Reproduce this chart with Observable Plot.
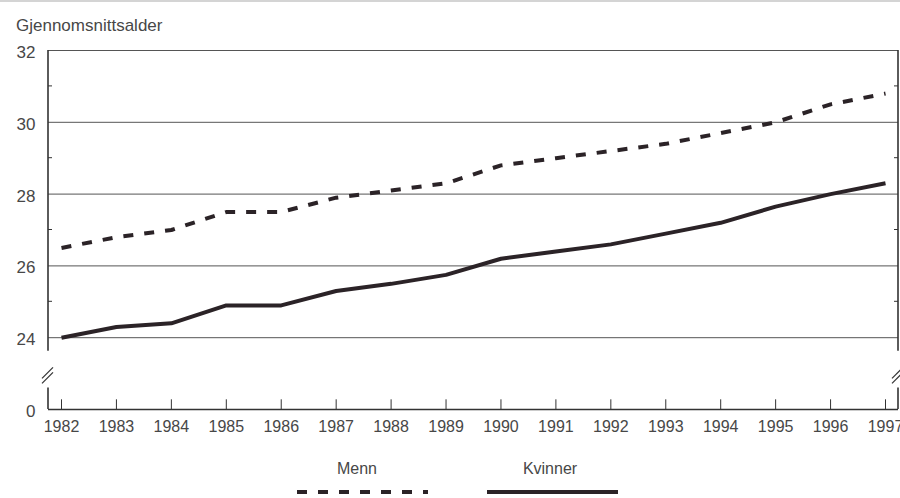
<!DOCTYPE html>
<html>
<head>
<meta charset="utf-8">
<script src="https://cdn.jsdelivr.net/npm/d3@7"></script>
<script src="https://cdn.jsdelivr.net/npm/@observablehq/plot@0.6"></script>
<style>
  html, body { margin: 0; padding: 0; background: #fff; }
  #wrap { position: relative; width: 900px; height: 498px; overflow: hidden; font-family: "Liberation Sans", Arial, sans-serif; color: #474747; }
  #topline { position: absolute; left: 0; top: 0; width: 900px; height: 2px; background: #d4d4d4; }
  #title { position: absolute; left: 16px; top: 16px; font-size: 17px; line-height: 20px; color: #474747; }
  #chart { position: absolute; left: 0; top: 0; }
  #legend { position: absolute; left: 0; top: 440px; }
</style>
</head>
<body>
<div id="wrap">
  <div id="topline"></div>
  <div id="chart"></div>
  <div id="title"></div>
  <div id="legend"></div>
</div>
<script>
// ---- data ----
const titleText = "Gjennomsnittsalder";
const years = [1982, 1983, 1984, 1985, 1986, 1987, 1988, 1989, 1990, 1991, 1992, 1993, 1994, 1995, 1996, 1997];
const menn = [26.5, 26.8, 27.0, 27.5, 27.5, 27.9, 28.1, 28.3, 28.8, 29.0, 29.2, 29.4, 29.7, 30.0, 30.5, 30.8];
const kvinner = [24.0, 24.3, 24.4, 24.9, 24.9, 25.3, 25.5, 25.75, 26.2, 26.4, 26.6, 26.9, 27.2, 27.65, 28.0, 28.3];
const seriesNames = ["Menn", "Kvinner"];
const gridValues = [24, 26, 28, 30, 32];
const yTickValues = [22, 24, 26, 28, 30, 32];      // 22 is the position of the broken-axis zero
const yTickLabels = ["0", "24", "26", "28", "30", "32"];
const minorTicks = [25, 27, 29, 31];
const breakRange = [22.6, 23.62];
const breakMid = 22.95;

// ---- build table ----
const rows = years.flatMap((yr, i) => [
  {year: yr, value: menn[i], series: seriesNames[0]},
  {year: yr, value: kvinner[i], series: seriesNames[1]}
]);

const ink = "#2b2327";
const axisColor = "#333";
const textColor = "#474747";

function brokenFrame(index, scales, values, dims) {
  const ns = "http://www.w3.org/2000/svg";
  const g = d3.select(document.createElementNS(ns, "g"));
  const y = scales.y;
  const top = dims.marginTop;
  const bottom = dims.height - dims.marginBottom;
  const xl = dims.marginLeft;
  const xr = dims.width - dims.marginRight;
  const yHi = y(breakRange[1]);
  const yLo = y(breakRange[0]);
  const yMid = y(breakMid);
  [[xl, 1], [xr, -1]].forEach(([x, dir]) => {
    g.append("line").attr("x1", x).attr("x2", x).attr("y1", top).attr("y2", yHi)
      .attr("stroke", axisColor).attr("stroke-width", 1.6);
    g.append("line").attr("x1", x).attr("x2", x).attr("y1", yLo).attr("y2", bottom)
      .attr("stroke", axisColor).attr("stroke-width", 1.6);
    [-2.5, 2.5].forEach(off => {
      g.append("line")
        .attr("x1", x - 6).attr("y1", yMid + off + 6)
        .attr("x2", x + 5).attr("y2", yMid + off - 5)
        .attr("stroke", axisColor).attr("stroke-width", 1.2);
    });
    minorTicks.forEach(v => {
      g.append("line").attr("x1", x).attr("x2", x + dir * 4)
        .attr("y1", y(v)).attr("y2", y(v))
        .attr("stroke", axisColor).attr("stroke-width", 1);
    });
  });
  return g.node();
}

const chart = Plot.plot({
  width: 900,
  height: 440,
  marginTop: 50,
  marginLeft: 48,
  marginRight: 2,
  marginBottom: 31,
  x: {domain: [1982, 1997], range: [61, 885]},
  y: {domain: [22, 32]},
  style: {fontFamily: "'Liberation Sans', Arial, sans-serif", fontSize: "16px", color: textColor, background: "transparent", overflow: "visible"},
  marks: [
    Plot.ruleY(gridValues, {stroke: "#555", strokeWidth: 1}),
    Plot.ruleY([yTickValues[0]], {stroke: axisColor, strokeWidth: 1.4}),
    Plot.ruleX(years, {y1: 22, y2: 22.27, stroke: axisColor, strokeWidth: 1}),
    brokenFrame,
    Plot.axisY(yTickValues, {anchor: "left", tickSize: 0, tickPadding: 13, dy: 2, label: null,
      tickFormat: (d) => yTickLabels[yTickValues.indexOf(d)], fontSize: 17, fill: textColor}),
    Plot.axisX(years, {anchor: "bottom", tickSize: 0, tickPadding: 11, label: null,
      tickFormat: (d) => String(d), fontSize: 16, fill: textColor}),
    Plot.line(rows.filter(d => d.series === seriesNames[1]), {x: "year", y: "value", stroke: ink, strokeWidth: 4, strokeLinejoin: "round", strokeLinecap: "butt"}),
    Plot.line(rows.filter(d => d.series === seriesNames[0]), {x: "year", y: "value", stroke: ink, strokeWidth: 4, strokeDasharray: "10,11", strokeLinecap: "butt"})
  ]
});
document.getElementById("chart").appendChild(chart);
document.getElementById("title").textContent = titleText;

// ---- legend ----
const leg = d3.select("#legend").append("svg").attr("width", 900).attr("height", 58);
const legendItems = [
  {name: seriesNames[0], cx: 357, x1: 297, x2: 428, dash: "10,11"},
  {name: seriesNames[1], cx: 550, x1: 487, x2: 618, dash: null}
];
legendItems.forEach(it => {
  leg.append("text").attr("x", it.cx).attr("y", 34).attr("text-anchor", "middle")
    .attr("font-family", "'Liberation Sans', Arial, sans-serif").attr("font-size", 16)
    .attr("fill", textColor).text(it.name);
  const l = leg.append("line").attr("x1", it.x1).attr("x2", it.x2).attr("y1", 52).attr("y2", 52)
    .attr("stroke", ink).attr("stroke-width", 4);
  if (it.dash) l.attr("stroke-dasharray", it.dash);
});
</script>
</body>
</html>
